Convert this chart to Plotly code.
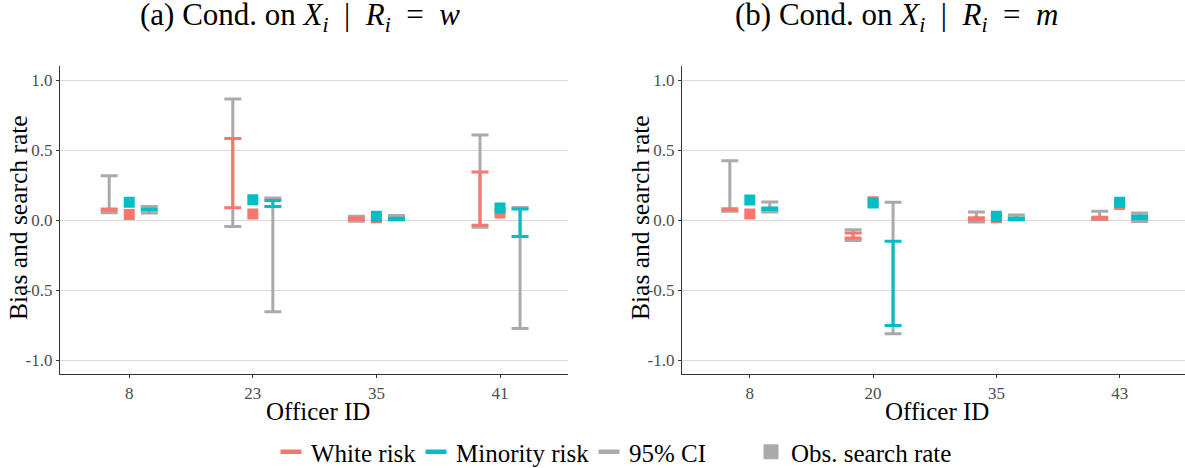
import plotly.graph_objects as go

# ---------------- data ----------------
officers_a = ["8", "23", "35", "41"]
officers_b = ["8", "20", "35", "43"]

# panel (a): conditioning on X_i | R_i = w
white_lo_a = [0.070, 0.089, 0.004, -0.037]
white_hi_a = [0.080, 0.582, 0.015, 0.343]
ci_w_lo_a = [0.052, -0.046, -0.008, -0.051]
ci_w_hi_a = [0.317, 0.865, 0.028, 0.608]
obs_w_a = [0.040, 0.044, 0.017, 0.051]
obs_m_a = [0.127, 0.146, 0.027, 0.087]
min_lo_a = [0.072, 0.098, 0.002, -0.117]
min_hi_a = [0.078, 0.141, 0.013, 0.080]
ci_m_lo_a = [0.051, -0.654, 0.002, -0.774]
ci_m_hi_a = [0.098, 0.158, 0.033, 0.091]

# panel (b): conditioning on X_i | R_i = m
white_lo_b = [0.073, -0.127, 0.002, 0.008]
white_hi_b = [0.082, -0.091, 0.017, 0.021]
ci_w_lo_b = [0.063, -0.146, -0.013, 0.004]
ci_w_hi_b = [0.423, -0.068, 0.058, 0.063]
obs_w_b = [0.044, 0.132, 0.018, 0.112]
obs_m_b = [0.144, 0.122, 0.027, 0.127]
min_lo_b = [0.076, -0.751, 0.003, 0.010]
min_hi_b = [0.086, -0.151, 0.016, 0.030]
ci_m_lo_b = [0.058, -0.810, 0.003, -0.009]
ci_m_hi_b = [0.130, 0.127, 0.037, 0.051]

y_tickvals = [-1.0, -0.5, 0.0, 0.5, 1.0]
y_ticktext = ["-1.0", "-0.5", "0.0", "0.5", "1.0"]

legend_names = ["White risk", "Minority risk", "95% CI", "Obs. search rate"]

# ---------------- style ----------------
RED = "#F8766D"
TEAL = "#00BFC4"
GRAY = "#AAAAAA"
FONT = "Liberation Serif"
OFF = 0.162

fig = go.Figure()


def errbar(xax, yax, pos, lo, hi, color):
    fig.add_trace(go.Scatter(
        x=pos, y=lo, mode="markers", xaxis=xax, yaxis=yax,
        marker=dict(size=1, color="rgba(0,0,0,0)"),
        error_y=dict(type="data", symmetric=False,
                     array=[h - l for h, l in zip(hi, lo)],
                     arrayminus=[0] * len(lo),
                     color=color, thickness=3, width=8.5),
        showlegend=False, hoverinfo="skip"))


def squares(xax, yax, pos, vals, color):
    fig.add_trace(go.Scatter(
        x=pos, y=vals, mode="markers", xaxis=xax, yaxis=yax,
        marker=dict(symbol="square", size=11, color=color),
        showlegend=False, hoverinfo="skip"))


panels = [
    ("x", "y", officers_a, white_lo_a, white_hi_a, ci_w_lo_a, ci_w_hi_a,
     obs_w_a, obs_m_a, min_lo_a, min_hi_a, ci_m_lo_a, ci_m_hi_a),
    ("x2", "y2", officers_b, white_lo_b, white_hi_b, ci_w_lo_b, ci_w_hi_b,
     obs_w_b, obs_m_b, min_lo_b, min_hi_b, ci_m_lo_b, ci_m_hi_b),
]

for (xax, yax, offs, wlo, whi, cwlo, cwhi, ow, om, mlo, mhi, cmlo, cmhi) in panels:
    idx = list(range(1, len(offs) + 1))
    left = [i - OFF for i in idx]
    right = [i + OFF for i in idx]
    errbar(xax, yax, left, cwlo, cwhi, GRAY)
    errbar(xax, yax, left, wlo, whi, RED)
    errbar(xax, yax, right, cmlo, cmhi, GRAY)
    errbar(xax, yax, right, mlo, mhi, TEAL)
    squares(xax, yax, idx, ow, RED)
    squares(xax, yax, idx, om, TEAL)

# legend-only traces, one legend each for precise placement
leg_cols = [RED, TEAL, GRAY]
for k in range(3):
    col = leg_cols[k]
    fig.add_trace(go.Scatter(
        x=[None], y=[None], mode="markers", name=legend_names[k],
        legend="legend" if k == 0 else f"legend{k + 1}",
        marker=dict(symbol="line-ew", size=15, color=col,
                    line=dict(width=4.5, color=col))))
fig.add_trace(go.Scatter(
    x=[None], y=[None], mode="markers", name=legend_names[3], legend="legend4",
    marker=dict(symbol="square", size=15, color=GRAY)))

W, H = 1185, 468
ytop, ybot = 66, 374.3
ydom = [1 - ybot / H, 1 - ytop / H]

axis_common = dict(showline=True, linecolor="#333333", linewidth=1.2,
                   ticks="outside", ticklen=3, tickcolor="#333333", tickwidth=1,
                   tickfont=dict(family=FONT, size=17, color="#4D4D4D"),
                   zeroline=False, automargin=False)


def leg(xpx):
    return dict(orientation="h", x=xpx / W, xanchor="left", y=1 - 452 / H,
                yanchor="middle", xref="container", yref="container",
                font=dict(family=FONT, size=25, color="black"),
                bgcolor="rgba(0,0,0,0)", itemwidth=30)


fig.update_layout(
    width=W, height=H, autosize=False,
    margin=dict(l=0, r=0, t=0, b=0, autoexpand=False),
    paper_bgcolor="white", plot_bgcolor="white",
    xaxis=dict(domain=[60 / W, 568 / W], range=[0.44, 4.55],
               tickvals=[1, 2, 3, 4], ticktext=officers_a, showgrid=False,
               anchor="y", **axis_common),
    yaxis=dict(domain=ydom, range=[-1.1, 1.1], tickvals=y_tickvals,
               ticktext=y_ticktext, showgrid=True, gridcolor="#D9D9D9",
               gridwidth=1.2, anchor="x", **axis_common),
    xaxis2=dict(domain=[682 / W, 1.0], range=[0.45, 4.53],
                tickvals=[1, 2, 3, 4], ticktext=officers_b, showgrid=False,
                anchor="y2", **axis_common),
    yaxis2=dict(domain=ydom, range=[-1.1, 1.1], tickvals=y_tickvals,
                ticktext=y_ticktext, showgrid=True, gridcolor="#D9D9D9",
                gridwidth=1.2, anchor="x2", **axis_common),
    legend=leg(271), legend2=leg(416), legend3=leg(589), legend4=leg(751),
    showlegend=True,
)

ann = []
ann.append(dict(text="(a) Cond. on <i>X<sub>i</sub></i>  |  <i>R<sub>i</sub></i>  =  <i>w</i>",
                x=300 / W, y=1 - 17 / H, xref="paper", yref="paper",
                xanchor="center", yanchor="middle", showarrow=False,
                font=dict(family=FONT, size=31, color="black")))
ann.append(dict(text="(b) Cond. on <i>X<sub>i</sub></i>  |  <i>R<sub>i</sub></i>  =  <i>m</i>",
                x=896 / W, y=1 - 17 / H, xref="paper", yref="paper",
                xanchor="center", yanchor="middle", showarrow=False,
                font=dict(family=FONT, size=31, color="black")))
for xc in [318, 937]:
    ann.append(dict(text="Officer ID", x=xc / W, y=1 - 411 / H, xref="paper",
                    yref="paper", xanchor="center", yanchor="middle",
                    showarrow=False, font=dict(family=FONT, size=25, color="black")))
for xc in [18, 640]:
    ann.append(dict(text="Bias and search rate", x=xc / W, y=1 - 218 / H,
                    xref="paper", yref="paper", xanchor="center",
                    yanchor="middle", textangle=-90, showarrow=False,
                    font=dict(family=FONT, size=25.5, color="black")))
fig.update_layout(annotations=ann)

fig.write_html("out.html",
               config={"displayModeBar": False},
               post_script="document.body.style.margin='0px';"
                           "document.body.style.overflow='hidden';")
